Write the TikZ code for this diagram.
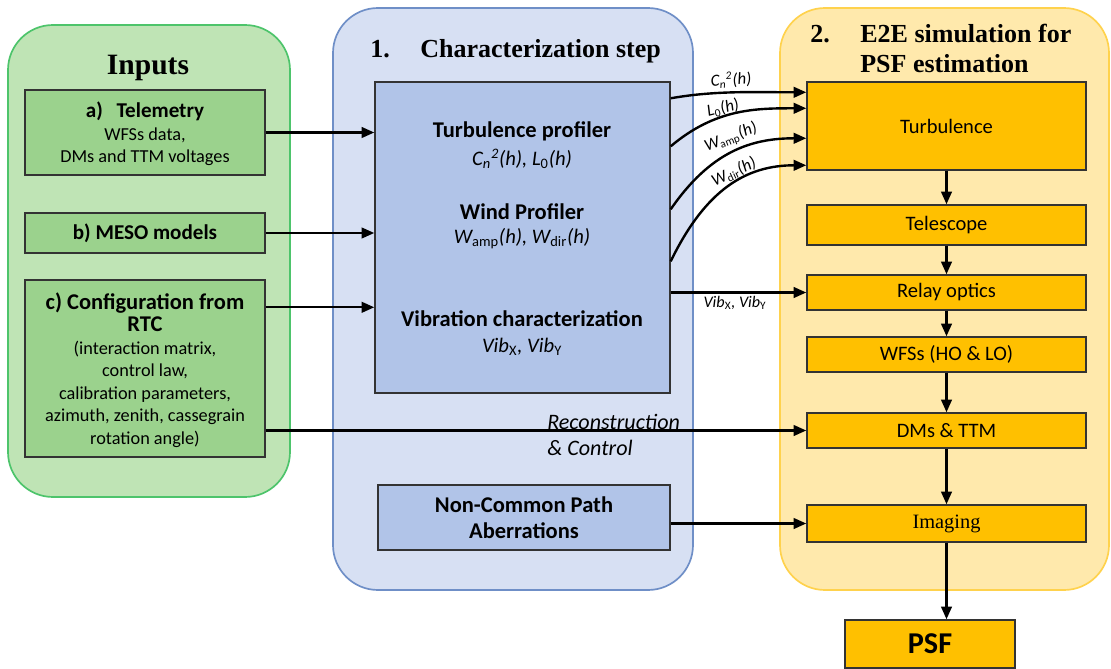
\documentclass[tikz,border=0pt]{standalone}
\usepackage{fontspec}
\setmainfont{Carlito}
\newfontfamily\tnr{Liberation Serif}
\usetikzlibrary{arrows.meta,calc}
\newdimen\pxu \pxu=0.025cm
\definecolor{gfill}{HTML}{BFE4B5}
\definecolor{gline}{HTML}{4DC46B}
\definecolor{gbox}{HTML}{9BD28D}
\definecolor{bfill}{HTML}{D7E0F3}
\definecolor{bline}{HTML}{6F8FC7}
\definecolor{bbox}{HTML}{B1C4E8}
\definecolor{yfill}{HTML}{FFE9AC}
\definecolor{yline}{HTML}{FFD24D}
\definecolor{obox}{HTML}{FFC000}
\definecolor{edge}{HTML}{333333}
\begin{document}
\begin{tikzpicture}[x=0.025cm,y=-0.025cm,
  panel/.style={draw, line width=1.2pt, rounded corners=45\pxu, inner sep=0},
  wh/.style 2 args={minimum width=#1\pxu,minimum height=#2\pxu},
  box/.style={draw=edge, line width=1pt, inner sep=0, align=center},
  gbx/.style={box, fill=gbox},
  obx/.style={box, fill=obox, font=\fontsize{14.6}{17}\selectfont},
  body/.style={align=center, inner sep=0, font=\fontsize{13}{16}\selectfont},
  head/.style={align=center, font=\fontsize{16}{18.5}\selectfont\bfseries},
  math/.style={align=center, font=\fontsize{14.7}{17}\selectfont\itshape},
  lab/.style={font=\fontsize{12}{13}\selectfont\itshape, inner sep=0},
  ttl/.style={font=\tnr\bfseries\fontsize{18.5}{22}\selectfont, inner sep=0},
  arr/.style={line width=1.7pt, -{Triangle[length=9pt,width=7.5pt]}}]
\useasboundingbox (0,0) rectangle (1111,669);

% panels
\node[panel, draw=gline, fill=gfill, wh={282}{472}] (inp) at (149,261) {};
\node[panel, draw=bline, fill=bfill, wh={360}{582}] (chr) at (513,299) {};
\node[panel, draw=yline, fill=yfill, wh={329}{582}] (e2e) at (944.5,299) {};

% titles
\node[ttl, font=\tnr\bfseries\fontsize{21}{25}\selectfont, anchor=base] (tin) at (148,75) {Inputs};
\node[ttl, anchor=base west] (t1n) at (370,58) {1.};
\node[ttl, anchor=base west] (t1) at (420,58) {Characterization step};
\node[ttl, anchor=base west] (t2n) at (810,43) {2.};
\node[ttl, anchor=base west] (t2a) at (860,43) {E2E simulation for};
\node[ttl, anchor=base west] (t2b) at (860,73) {PSF estimation};

% input boxes
\node[gbx, wh={240}{85}] (a) at (145,132.5) {};
\node[body] (atx) at (145,134) {{\fontsize{15}{16}\selectfont\bfseries a)\hspace{0.65em}Telemetry}\\WFSs data,\\DMs and TTM voltages};
\node[gbx, wh={240}{40}, font=\fontsize{15}{17}\selectfont\bfseries] (b) at (145,233) {b) MESO models};
\node[gbx, wh={240}{177}] (c) at (145,368.5) {};
\node[body] (ctx) at (145,370) {{\fontsize{16}{16}\selectfont\bfseries c) Configuration from}\\{\fontsize{16}{16}\selectfont\bfseries RTC}\\(interaction matrix,\\control law,\\calibration parameters,\\azimuth, zenith, cassegrain\\rotation angle)};

% characterization
\node[box, fill=bbox, wh={295}{311}] (cb) at (522.5,237.5) {};
\node[head] (h1) at (522,131) {Turbulence profiler};
\node[math] (m1) at (522,159) {C\textsubscript{n}\textsuperscript{2}(h), L\textsubscript{\upshape 0}(h)};
\node[head] (h2) at (522,212) {Wind Profiler};
\node[math] (m2) at (522,239) {W\textsubscript{\upshape amp}(h), W\textsubscript{\upshape dir}(h)};
\node[head] (h3) at (522,319) {Vibration characterization};
\node[math] (m3) at (522,347) {Vib\textsubscript{\upshape X}, Vib\textsubscript{\upshape Y}};
\node[box, fill=bbox, wh={292}{65}, head] (nc) at (524,517.5) {Non-Common Path\\Aberrations};

% E2E boxes
\node[obx, wh={279}{88}] (turb) at (946.5,126) {Turbulence};
\node[obx, wh={279}{40}] (tel) at (946.5,225) {Telescope};
\node[obx, wh={279}{35}] (rel) at (946.5,292.5) {Relay optics};
\node[obx, wh={279}{35}] (wfs) at (946.5,354.5) {WFSs (HO \& LO)};
\node[obx, wh={279}{35}] (dms) at (946.5,430.5) {DMs \& TTM};
\node[obx, wh={279}{37}, font=\tnr\fontsize{14.5}{16}\selectfont] (img) at (946.5,523.5) {Imaging};
\node[obx, wh={170}{48}, font=\fontsize{21.5}{24}\selectfont\bfseries] (psf) at (930,644) {PSF};

% input arrows
\draw[arr] (a.east) -- (a.east -| cb.west);
\draw[arr] (b.east) -- (b.east -| cb.west);
\coordinate (c1) at ($(c.north east)+(0,28)$);
\draw[arr] (c1) -- (c1 -| cb.west);
\draw[arr] (c.east |- dms.west) -- (dms.west);
\node[align=left, anchor=west, inner sep=0, font=\fontsize{15.7}{18.5}\selectfont\itshape] (rc) at (547,435) {Reconstruction\\\& Control};

% curved arrows
\coordinate (s1) at ($(cb.north east)+(0,17)$);
\coordinate (s2) at ($(cb.north east)+(0,65)$);
\coordinate (s3) at ($(cb.north east)+(0,128)$);
\coordinate (s4) at ($(cb.north east)+(0,180)$);
\coordinate (e1) at ($(turb.north west)+(0,11)$);
\coordinate (e2) at ($(turb.north west)+(0,27)$);
\coordinate (e3) at ($(turb.north west)+(0,57)$);
\coordinate (e4) at ($(turb.north west)+(0,84)$);
\draw[arr] (s1) .. controls +(45,-8) and +(-50,0) .. (e1);
\draw[arr] (s2) .. controls +(45,-38) and +(-50,0) .. (e2);
\draw[arr] (s3) .. controls +(40,-58) and +(-55,0) .. (e3);
\draw[arr] (s4) .. controls +(35,-72) and +(-60,0) .. (e4);
\node[lab, rotate=4] (l1) at (731,80) {C\textsubscript{n}\textsuperscript{2}(h)};
\node[lab, rotate=14] (l2) at (723,108) {L\textsubscript{\upshape 0}(h)};
\node[lab, rotate=21] (l3) at (731,138) {W\textsubscript{\upshape amp}(h)};
\node[lab, rotate=25] (l4) at (734,172) {W\textsubscript{\upshape dir}(h)};

% other arrows
\draw[arr] (cb.east |- rel.west) -- (rel.west);
\node[lab, font=\fontsize{11.5}{13}\selectfont\itshape] (lv) at (735,303) {Vib\textsubscript{\upshape X}, Vib\textsubscript{\upshape Y}};
\draw[arr] (nc.east |- img.west) -- (img.west);
\draw[arr] (turb) -- (tel);
\draw[arr] (tel) -- (rel);
\draw[arr] (rel) -- (wfs);
\draw[arr] (wfs) -- (dms);
\draw[arr] (dms) -- (img);
\draw[arr] (img.south) -- (img.south |- psf.north);
\end{tikzpicture}
\end{document}
